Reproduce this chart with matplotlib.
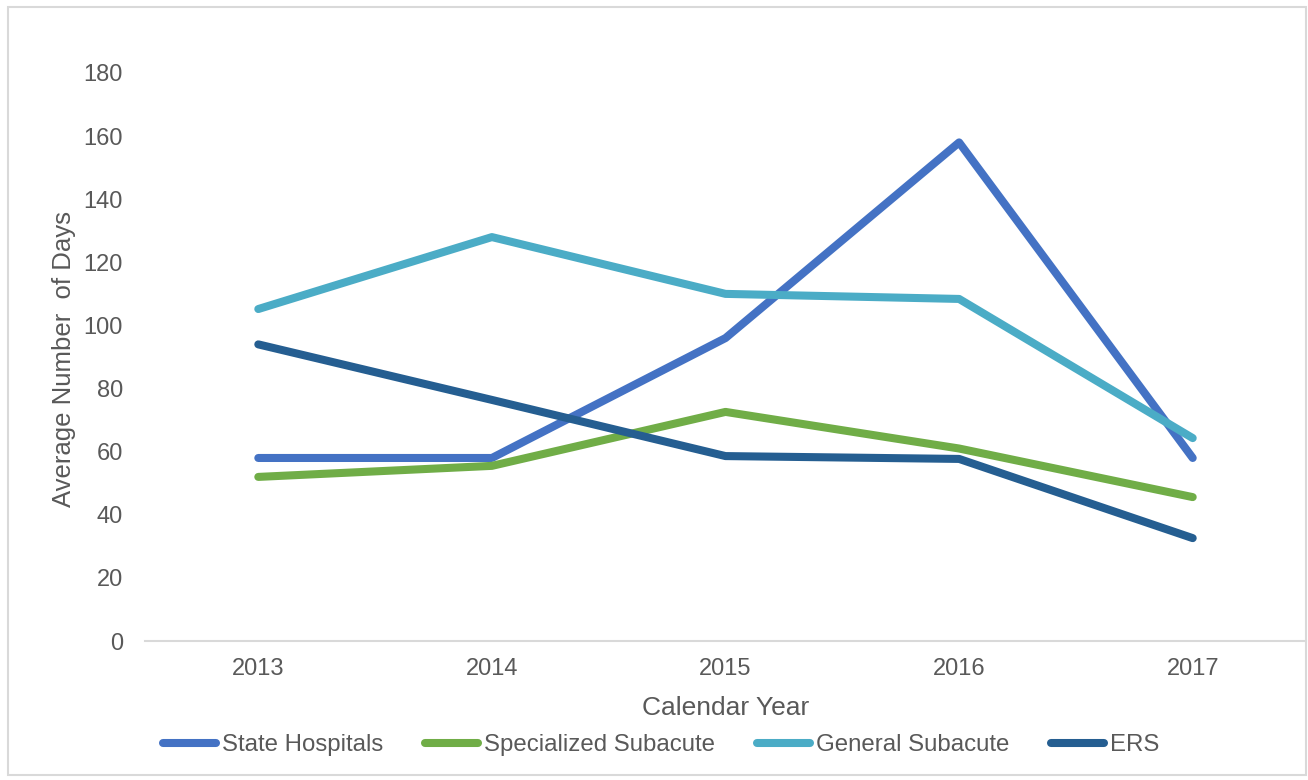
import matplotlib
matplotlib.use("Agg")
import matplotlib.pyplot as plt
from matplotlib.patches import Rectangle

plt.rcParams['font.family'] = ['Liberation Sans', 'DejaVu Sans']

years = ["2013", "2014", "2015", "2016", "2017"]
state_hospitals = [58, 58, 96, 158, 58]
specialized_subacute = [52, 55.5, 72.6, 61, 45.6]
general_subacute = [105.2, 128, 110, 108.4, 64.3]
ers = [94, 76.4, 58.6, 57.7, 32.6]

series = [
    ("State Hospitals", state_hospitals, "#4472C4"),
    ("Specialized Subacute", specialized_subacute, "#70AD47"),
    ("General Subacute", general_subacute, "#4BACC6"),
    ("ERS", ers, "#255E91"),
]

W, H = 1308, 780
fig = plt.figure(figsize=(W / 100, H / 100), dpi=100)
ax = fig.add_axes([145 / W, 1 - 641 / H, (1306 - 145) / W, (641 - 73) / H])

x = list(range(len(years)))
for name, vals, col in series:
    ax.plot(x, vals, color=col, lw=5.8, solid_capstyle='round',
            solid_joinstyle='round', label=name)

ax.set_xlim(-0.485, 4.485)
ax.set_ylim(0, 180)
ax.set_yticks(range(0, 181, 20))
ax.set_xticks(x)
ax.set_xticklabels(years)

txt = "#595959"
for s in ["top", "right", "left"]:
    ax.spines[s].set_visible(False)
ax.spines["bottom"].set_color("#D9D9D9")
ax.spines["bottom"].set_linewidth(1.5)
ax.tick_params(axis='both', length=0, labelsize=17, colors=txt)
ax.tick_params(axis='y', pad=16)
ax.tick_params(axis='x', pad=12)

fig.text(726 / W, 1 - 708 / H, "Calendar Year", fontsize=19, color=txt,
         ha='center', va='center')
fig.text(64 / W, 1 - 359 / H, "Average Number  of Days", rotation=90,
         fontsize=18.5, color=txt, ha='center', va='center')

leg = fig.legend(loc='center', bbox_to_anchor=(661 / W, 1 - 745 / H),
                 ncol=4, frameon=False, fontsize=17.3, handlelength=2.2,
                 handletextpad=0.25, columnspacing=1.75)
for t in leg.get_texts():
    t.set_color(txt)
for l in leg.get_lines():
    l.set_linewidth(5.8)

fig.patches.append(Rectangle((8 / W, 1 - 775 / H), (1306 - 8) / W, (775 - 7) / H,
                             transform=fig.transFigure, fill=False,
                             edgecolor="#D9D9D9", lw=1.5))

fig.savefig("out.png", dpi=100)
